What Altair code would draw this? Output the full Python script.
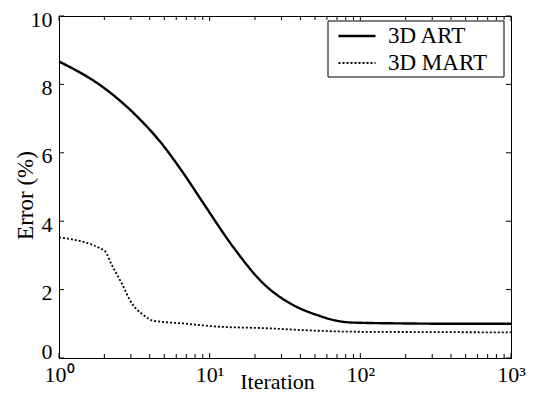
import altair as alt
import pandas as pd

# ---- data ----
art_x = [1, 2, 3.3, 4.7, 6.7, 9.1, 14.3, 22.7, 34.1, 46.3, 51.3, 69.6, 85, 100, 200, 500, 1000]
art_y = [8.67, 7.89, 7.06, 6.32, 5.40, 4.52, 3.25, 2.18, 1.60, 1.33, 1.26, 1.09, 1.04, 1.03, 1.01, 1.00, 1.00]
mart_x = [1, 2, 2.24, 2.61, 3.04, 3.63, 4.22, 6.7, 11.1, 23.9, 39.7, 85, 200, 1000]
mart_y = [3.53, 3.14, 2.72, 2.18, 1.60, 1.26, 1.09, 1.01, 0.92, 0.87, 0.82, 0.77, 0.76, 0.75]
series_names = ["3D ART", "3D MART"]

x_major = [1, 10, 100, 1000]
x_minor = [2, 3, 4, 5, 6, 7, 8, 9, 20, 30, 40, 50, 60, 70, 80, 90,
           200, 300, 400, 500, 600, 700, 800, 900]
y_major = [0, 2, 4, 6, 8, 10]

W, H = 452, 342
FONT = "Liberation Serif"

df = pd.concat([
    pd.DataFrame({"x": art_x, "y": art_y, "series": series_names[0]}),
    pd.DataFrame({"x": mart_x, "y": mart_y, "series": series_names[1]}),
])

xscale = alt.Scale(type="log", domain=[1, 1000], nice=False)
yscale = alt.Scale(domain=[0, 10], nice=False, zero=False)

label_expr = ("datum.value == 1 ? '10⁰' : datum.value == 10 ? '10¹' : "
              "datum.value == 100 ? '10²' : '10³'")

xaxis = alt.Axis(values=x_major, labelExpr=label_expr, ticks=False, grid=False,
                 labelFont=FONT, labelFontSize=22, labelColor="black",
                 labelPadding=6, labelFlush=False,
                 title="Iteration", titleFont=FONT, titleFontSize=22,
                 titleFontWeight="normal", titleColor="black",
                 titleX=218, titleY=30, titleBaseline="alphabetic",
                 titleAlign="center", domainColor="black")
yaxis = alt.Axis(values=y_major, ticks=False, grid=False,
                 labelFont=FONT, labelFontSize=22, labelColor="black",
                 labelPadding=7, labelFlush=False,
                 labelOffset={"condition": {"test": "datum.value == 0", "value": -7},
                              "value": 3},
                 title="Error (%)", titleFont=FONT, titleFontSize=23,
                 titleFontWeight="normal", titleColor="black",
                 titleX=-27, titleY=179, titleBaseline="alphabetic",
                 titleAlign="center", titleAngle=270, domainColor="black")

legend_box = alt.Chart(pd.DataFrame({"k": [0]})).mark_rect(
    fill="white", stroke="black", strokeWidth=1
).encode(x=alt.value(269), x2=alt.value(445), y=alt.value(5), y2=alt.value(61))

lines = alt.Chart(df).mark_line(color="black", interpolate="monotone").encode(
    x=alt.X("x:Q", scale=xscale, axis=xaxis, title="Iteration"),
    y=alt.Y("y:Q", scale=yscale, axis=yaxis, title="Error (%)"),
    strokeDash=alt.StrokeDash("series:N",
                              scale=alt.Scale(domain=series_names, range=[[1, 0], [2, 2]]),
                              legend=alt.Legend(orient="none", legendX=274, legendY=5,
                                                title=None, padding=4,
                                                symbolType="stroke", symbolSize=1369,
                                                symbolStrokeColor="black",
                                                symbolStrokeWidth=2,
                                                labelFont=FONT, labelFontSize=23,
                                                labelColor="black", labelOffset=11,
                                                clipHeight=22, rowPadding=4)),
    strokeWidth=alt.StrokeWidth("series:N",
                                scale=alt.Scale(domain=series_names, range=[2.4, 1.8]),
                                legend=None),
)

def xticks(vals, length, top):
    d = pd.DataFrame({"x": vals})
    if top:
        yy, yy2 = alt.value(0), alt.value(length)
    else:
        yy, yy2 = alt.value(H), alt.value(H - length)
    return alt.Chart(d).mark_rule(color="black", strokeWidth=1).encode(
        x=alt.X("x:Q", scale=xscale, axis=xaxis, title="Iteration"), y=yy, y2=yy2)

def yticks(vals, length, right):
    d = pd.DataFrame({"y": vals})
    if right:
        xx, xx2 = alt.value(W), alt.value(W - length)
    else:
        xx, xx2 = alt.value(0), alt.value(length)
    return alt.Chart(d).mark_rule(color="black", strokeWidth=1).encode(
        y=alt.Y("y:Q", scale=yscale, axis=yaxis, title="Error (%)"), x=xx, x2=xx2)

chart = alt.layer(
    xticks(x_major, 5, False), xticks(x_minor, 4, False),
    xticks(x_major, 5, True), xticks(x_minor, 4, True),
    yticks(y_major, 5, False), yticks(y_major, 5, True),
    lines, legend_box,
).properties(
    width=W, height=H,
    autosize=alt.AutoSizeParams(type="none"),
    padding={"left": 51, "top": 8, "right": 16, "bottom": 38},
    background="white",
).configure_view(stroke="black", strokeWidth=1)

chart.save("out.html", embed_options={"renderer": "svg", "actions": False})
